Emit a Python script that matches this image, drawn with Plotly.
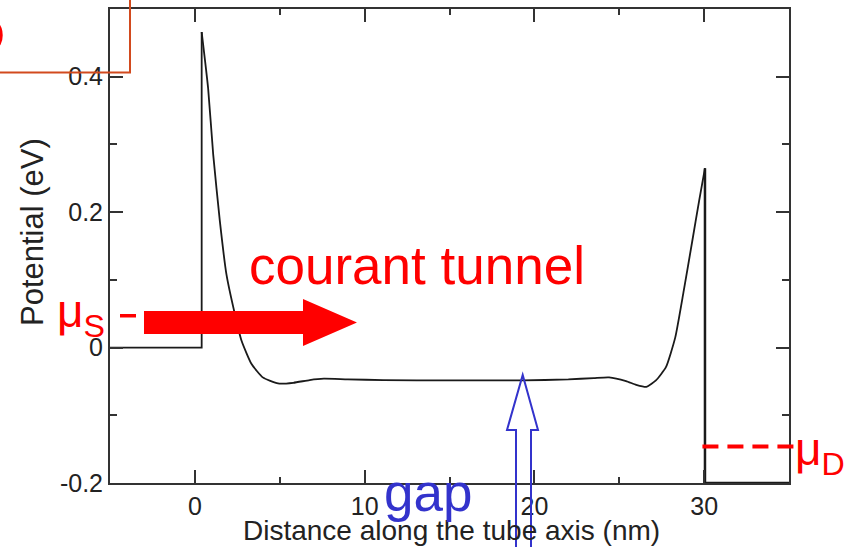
import plotly.graph_objects as go

# ---------------- data ----------------
# potential profile along the nanotube (nm, eV)
contact_left_x = [-5, 0.4, 0.4]
contact_left_y = [0.0, 0.0, 0.466]

channel_x = [0.4, 0.78, 1.08, 1.47, 1.86, 2.35, 2.75, 3.33, 4.0, 4.9, 5.8, 6.76, 7.6,
             9.0, 11.1, 15.0, 19.3, 22.0, 23.5, 24.4, 25.4, 26.0, 26.6, 27.16, 27.75,
             28.3, 28.8, 29.3, 29.7, 30.05]
channel_y = [0.466, 0.383, 0.285, 0.187, 0.108, 0.050, 0.010, -0.024, -0.044, -0.053,
             -0.052, -0.048, -0.046, -0.047, -0.048, -0.0485, -0.0485, -0.047, -0.045,
             -0.044, -0.0495, -0.055, -0.058, -0.0485, -0.029, 0.015, 0.084, 0.157,
             0.216, 0.265]

contact_right_x = [30.05, 30.05, 35]
contact_right_y = [0.265, -0.2, -0.2]

mu_s = 0.047      # source Fermi level (eV)
mu_d = -0.146     # drain Fermi level (eV)

x_ticks = [0, 10, 20, 30]
x_tick_text = ["0", "10", "20", "30"]
y_ticks = [-0.2, 0, 0.2, 0.4]
y_tick_text = ["-0.2", "0", "0.2", "0.4"]

X_RANGE = [-5, 35]
Y_RANGE = [-0.2, 0.5]

# ---------------- layout geometry ----------------
W, H = 848, 547
ML, MR, MT, MB = 110, 59, 9, 64
PW, PH = W - ML - MR, H - MT - MB


def px(xp):
    return (xp - ML) / PW


def py(yp):
    return (MT + PH - yp) / PH


def dx(v):  # data x -> paper
    return (v - X_RANGE[0]) / (X_RANGE[1] - X_RANGE[0])


def dy(v):  # data y -> paper
    return (v - Y_RANGE[0]) / (Y_RANGE[1] - Y_RANGE[0])


FONT = "Liberation Sans, Arial, Helvetica, sans-serif"
AX = "#333333"
RED = "#ff0000"
BLUE = "#3333cc"

fig = go.Figure()
fig.add_trace(go.Scatter(x=contact_left_x, y=contact_left_y, mode="lines",
                         line=dict(color="#1a1a1a", width=1.8)))
fig.add_trace(go.Scatter(x=channel_x, y=channel_y, mode="lines",
                         line=dict(color="#1a1a1a", width=1.8, shape="spline", smoothing=0.5)))
fig.add_trace(go.Scatter(x=contact_right_x, y=contact_right_y, mode="lines",
                         line=dict(color="#1a1a1a", width=2.5)))

axis_common = dict(showline=True, linewidth=2, linecolor=AX, mirror="allticks",
                   ticks="inside", ticklen=13, tickwidth=2, tickcolor=AX,
                   showgrid=False, zeroline=False, automargin=False,
                   tickfont=dict(family=FONT, size=25, color="#222"))

fig.update_xaxes(range=X_RANGE, tickmode="array", tickvals=x_ticks, ticktext=x_tick_text,
                 minor=dict(tickmode="linear", tick0=0, dtick=5, ticks="inside",
                            ticklen=6, tickwidth=2, tickcolor=AX),
                 **axis_common)
fig.update_yaxes(range=Y_RANGE, tickmode="array", tickvals=y_ticks, ticktext=y_tick_text,
                 minor=dict(tickmode="linear", tick0=0, dtick=0.1, ticks="inside",
                            ticklen=7, tickwidth=2, tickcolor=AX),
                 **axis_common)

shapes = []
# source Fermi level dash
shapes.append(dict(type="line", xref="paper", yref="paper",
                   x0=px(120), x1=px(136), y0=dy(mu_s), y1=dy(mu_s),
                   line=dict(color=RED, width=3.5)))
# drain Fermi level dashed line
shapes.append(dict(type="line", xref="paper", yref="paper",
                   x0=dx(29.9), x1=px(796), y0=dy(mu_d), y1=dy(mu_d),
                   line=dict(color=RED, width=4, dash="16px,9px")))
# big red arrow (tunnel current)
pts = [(144, 311), (303, 311), (303, 299), (357, 322.5), (303, 346), (303, 334), (144, 334)]
path = "M " + " L ".join(f"{px(a):.5f},{py(b):.5f}" for a, b in pts) + " Z"
shapes.append(dict(type="path", xref="paper", yref="paper", path=path,
                   fillcolor=RED, line=dict(width=0), layer="above"))
# hollow blue arrow (gap)
bpts = [(516, 560), (516, 430), (507, 430), (522.7, 375), (538, 430), (531, 430), (531, 560)]
bpath = "M " + " L ".join(f"{px(a):.5f},{py(b):.5f}" for a, b in bpts)
shapes.append(dict(type="path", xref="paper", yref="paper", path=bpath,
                   fillcolor="rgba(0,0,0,0)", line=dict(color=BLUE, width=2), layer="above"))
# orange-red box corner top-left
shapes.append(dict(type="path", xref="paper", yref="paper",
                   path=f"M {px(-5):.5f},{py(72.5):.5f} L {px(130):.5f},{py(72.5):.5f} L {px(130):.5f},{py(-5):.5f}",
                   fillcolor="rgba(0,0,0,0)", line=dict(color="#d24a1e", width=2), layer="above"))

annotations = [
    dict(text="Potential (eV)", xref="paper", yref="paper", x=px(32), y=py(232),
         textangle=-90, showarrow=False, xanchor="center", yanchor="middle",
         font=dict(family=FONT, size=31, color="#222")),
    dict(text="Distance along the tube axis (nm)", xref="paper", yref="paper",
         x=px(451), y=py(530), showarrow=False, xanchor="center", yanchor="middle",
         font=dict(family=FONT, size=28, color="#222")),
    dict(text="courant tunnel", xref="paper", yref="paper", x=px(417), y=py(266),
         showarrow=False, xanchor="center", yanchor="middle",
         font=dict(family=FONT, size=53, color=RED)),
    dict(text="gap", xref="paper", yref="paper", x=px(428), y=py(492),
         showarrow=False, xanchor="center", yanchor="middle",
         font=dict(family=FONT, size=53, color=BLUE)),
    dict(text="μ<sub>S</sub>", xref="paper", yref="paper", x=px(55), y=py(314),
         showarrow=False, xanchor="left", yanchor="middle",
         font=dict(family=FONT, size=46, color=RED)),
    dict(text="μ<sub>D</sub>", xref="paper", yref="paper", x=px(793), y=py(452),
         showarrow=False, xanchor="left", yanchor="middle",
         font=dict(family=FONT, size=46, color=RED)),
    dict(text="D", xref="paper", yref="paper", x=px(7), y=py(36),
         showarrow=False, xanchor="right", yanchor="middle",
         font=dict(family=FONT, size=50, color=RED)),
]

fig.update_layout(width=W, height=H, margin=dict(l=ML, r=MR, t=MT, b=MB, pad=0),
                  paper_bgcolor="white", plot_bgcolor="white", showlegend=False,
                  shapes=shapes, annotations=annotations)

fig.write_html("out.html")
